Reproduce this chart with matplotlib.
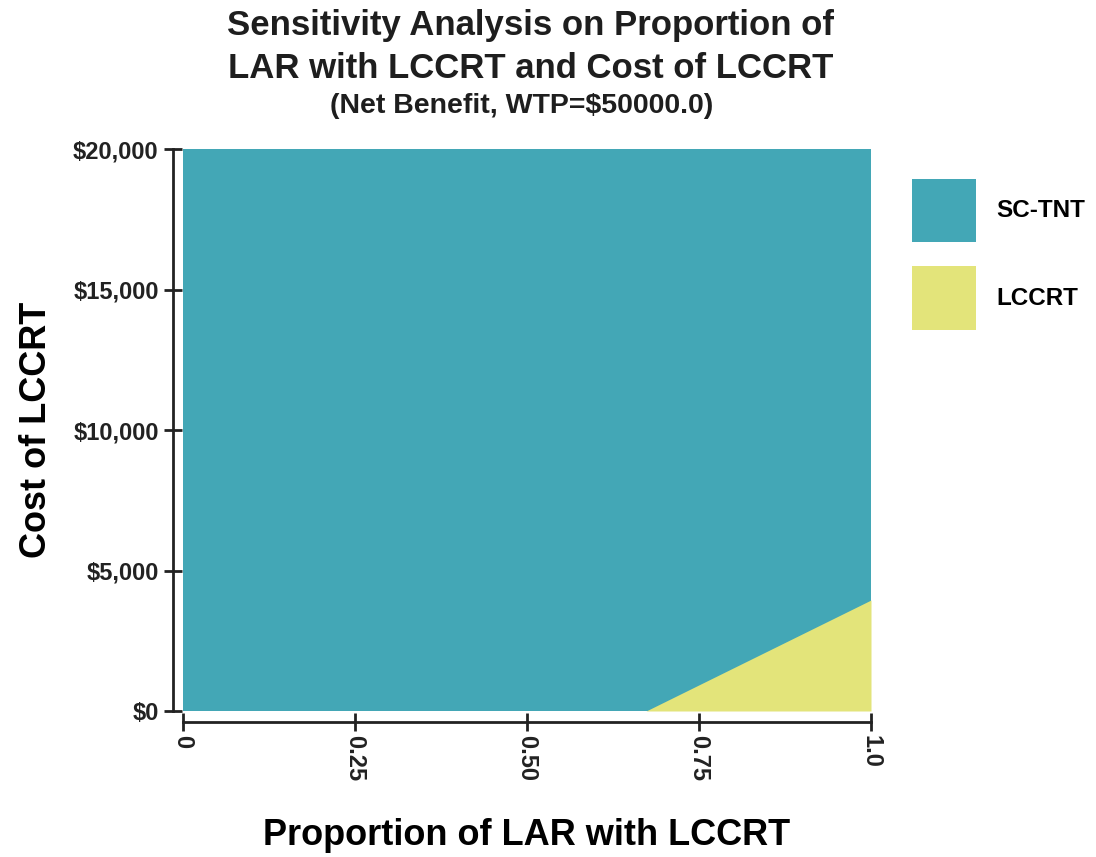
import matplotlib
matplotlib.use('Agg')
import matplotlib.pyplot as plt
from matplotlib.patches import Patch

plt.rcParams['font.family'] = ['Liberation Sans', 'DejaVu Sans']
plt.rcParams['font.weight'] = 'bold'

# decision boundary (LCCRT preferred below the line)
boundary_prop = [0.673, 1.0]
boundary_cost = [0.0, 3950.0]

x_ticks = [0, 0.25, 0.50, 0.75, 1.0]
x_ticklabels = ['0', '0.25', '0.50', '0.75', '1.0']
y_ticks = [0, 5000, 10000, 15000, 20000]
y_ticklabels = ['$0', '$5,000', '$10,000', '$15,000', '$20,000']

strategies = ['SC-TNT', 'LCCRT']
colours = ['#43a7b6', '#e3e47a']

fig = plt.figure(figsize=(10.96, 8.57), dpi=100)
ax = fig.add_axes([183/1096, 1 - 711/857, 688/1096, 562/857])

# whole plane is SC-TNT, the triangle below the boundary is LCCRT
ax.fill_between([0, 1], [0, 0], [20000, 20000], color=colours[0], lw=0)
ax.fill_between(boundary_prop, [0, 0], boundary_cost, color=colours[1], lw=0)

ax.set_xlim(0, 1)
ax.set_ylim(0, 20000)

for s in ['top', 'right']:
    ax.spines[s].set_visible(False)
ax.spines['left'].set_position(('outward', 7))
ax.spines['bottom'].set_position(('outward', 8))
for s in ['left', 'bottom']:
    ax.spines[s].set_linewidth(2)
    ax.spines[s].set_color('#222222')
ax.tick_params(direction='inout', length=13, width=2, colors='#222222',
               labelsize=17, pad=4)
ax.tick_params(axis='x', pad=3)

ax.set_xticks(x_ticks)
ax.set_xticklabels(x_ticklabels, rotation=-90, va='top', ha='center')
ax.set_yticks(y_ticks)
ax.set_yticklabels(y_ticklabels)

ax.set_xlabel('Proportion of LAR with LCCRT', fontsize=26, fontweight='bold', labelpad=26)
ax.set_ylabel('Cost of LCCRT', fontsize=26, fontweight='bold', labelpad=14)

fig.text(0.484, 1 - 35/857, 'Sensitivity Analysis on Proportion of', ha='center', va='baseline',
         fontsize=25, fontweight='bold', color='#1e1e1e')
fig.text(0.484, 1 - 78/857, 'LAR with LCCRT and Cost of LCCRT', ha='center', va='baseline',
         fontsize=25, fontweight='bold', color='#1e1e1e')
fig.text(0.4755, 1 - 113/857, '(Net Benefit, WTP=$50000.0)', ha='center', va='baseline',
         fontsize=20.5, fontweight='bold', color='#1e1e1e')

handles = [Patch(facecolor=c, edgecolor='none') for c in colours]
ax.legend(handles, strategies, loc='upper left', bbox_to_anchor=(1.045, 0.964),
          frameon=False, fontsize=17.5, handlelength=2.65, handleheight=3.62,
          labelspacing=1.0, handletextpad=0.85, borderaxespad=0)

fig.savefig('out.png', dpi=100)
